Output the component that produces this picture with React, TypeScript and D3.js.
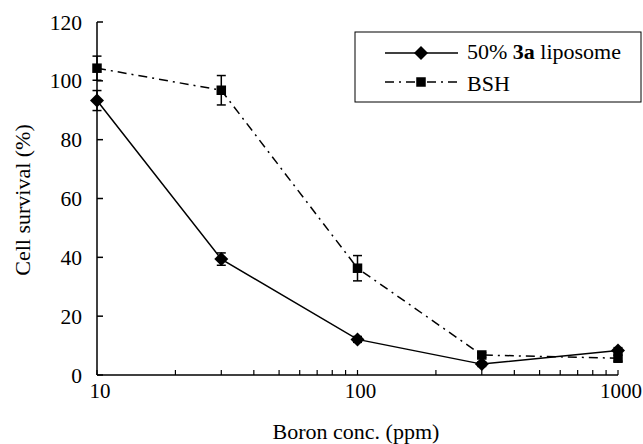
import React from "react";
import * as d3 from "d3";

// Data
const conc = [10, 30, 100, 300, 1000];
const liposome = [93.3, 39.4, 12.1, 3.7, 8.3];
const liposomeErr = [3.4, 2.1, 1.0, 0.8, 1.0];
const bsh = [104.3, 96.8, 36.3, 6.8, 5.7];
const bshErr = [4.1, 5.0, 4.3, 0.8, 1.0];
const yTicks = [0, 20, 40, 60, 80, 100, 120];
const xLabels = [10, 100, 1000];

const W = 643;
const H = 444;
const font = "'Liberation Serif', 'Times New Roman', serif";

const App = () => {
  const x = d3.scaleLog().domain([10, 1000]).range([97, 618]);
  const y = d3.scaleLinear().domain([0, 120]).range([375, 22]);

  const line = d3
    .line<number>()
    .x((_, i) => x(conc[i]))
    .y((d) => y(d));

  const diamond = (cx: number, cy: number) =>
    `M${cx},${cy - 7}L${cx + 7},${cy}L${cx},${cy + 7}L${cx - 7},${cy}Z`;

  const errBars = (vals: number[], errs: number[], key: string) =>
    vals.map((v, i) => {
      const cx = x(conc[i]);
      const y1 = y(v + errs[i]);
      const y2 = y(v - errs[i]);
      return (
        <g key={key + i} stroke="#000" strokeWidth={1.5}>
          <line x1={cx} x2={cx} y1={y1} y2={y2} />
          <line x1={cx - 4.5} x2={cx + 4.5} y1={y1} y2={y1} />
          <line x1={cx - 4.5} x2={cx + 4.5} y1={y2} y2={y2} />
        </g>
      );
    });

  const bshDash = "9,5,2,5";

  return (
    <svg
      width={W}
      height={H}
      style={{ position: "absolute", left: 0, top: 0, background: "#fff" }}
      fontFamily={font}
    >
      {/* axes */}
      <line x1={97} x2={97} y1={y(120)} y2={375} stroke="#000" strokeWidth={1.5} />
      <line x1={97} x2={618} y1={375} y2={375} stroke="#000" strokeWidth={1.5} />
      {yTicks.map((t) => (
        <g key={"yt" + t}>
          <line x1={97} x2={103} y1={y(t)} y2={y(t)} stroke="#000" strokeWidth={1.5} />
          <text x={82} y={y(t)} dy="0.35em" textAnchor="end" fontSize={21.5}>
            {t}
          </text>
        </g>
      ))}
      {x.ticks().map((t) => (
        <line
          key={"xt" + t}
          x1={x(t)}
          x2={x(t)}
          y1={375}
          y2={370}
          stroke="#000"
          strokeWidth={1.2}
        />
      ))}
      {xLabels.map((t) => (
        <text key={"xl" + t} x={x(t) + 3} y={398} textAnchor="middle" fontSize={21}>
          {t}
        </text>
      ))}
      <text x={356} y={438.5} textAnchor="middle" fontSize={22}>
        Boron conc. (ppm)
      </text>
      <text
        transform={`translate(30,200) rotate(-90)`}
        textAnchor="middle"
        fontSize={22}
      >
        Cell survival (%)
      </text>

      {/* BSH series */}
      <path d={line(bsh) || ""} fill="none" stroke="#000" strokeWidth={1.5} strokeDasharray={bshDash} />
      {errBars(bsh, bshErr, "be")}
      {bsh.map((v, i) => (
        <rect key={"bs" + i} x={x(conc[i]) - 4.75} y={y(v) - 4.75} width={9.5} height={9.5} fill="#000" />
      ))}

      {/* liposome series */}
      <path d={line(liposome) || ""} fill="none" stroke="#000" strokeWidth={1.5} />
      {errBars(liposome, liposomeErr, "le")}
      {liposome.map((v, i) => (
        <path key={"ld" + i} d={diamond(x(conc[i]), y(v))} fill="#000" />
      ))}

      {/* legend */}
      <rect x={355} y={32} width={286} height={70} fill="#fff" stroke="#000" strokeWidth={1} />
      <line x1={385} x2={458} y1={53} y2={53} stroke="#000" strokeWidth={1.5} />
      <path d={diamond(421, 53)} fill="#000" />
      <text x={467} y={58.5} fontSize={22}>
        50% <tspan fontWeight="bold">3a</tspan> liposome
      </text>
      <line x1={385} x2={458} y1={82} y2={82} stroke="#000" strokeWidth={1.5} strokeDasharray={bshDash} />
      <rect x={416.25} y={77.25} width={9.5} height={9.5} fill="#000" />
      <text x={467} y={91} fontSize={22}>
        BSH
      </text>
    </svg>
  );
};

export default App;
